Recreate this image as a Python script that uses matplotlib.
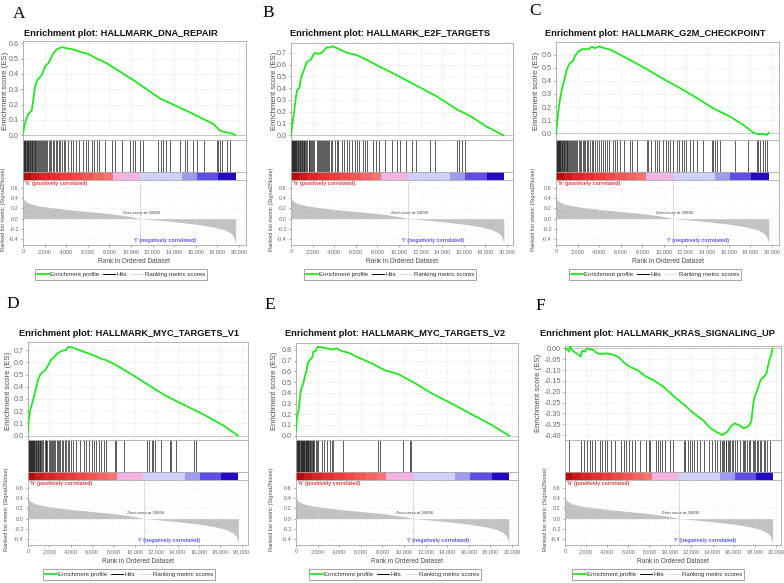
import matplotlib
matplotlib.use("Agg")
import numpy as np
import matplotlib.pyplot as plt
from matplotlib.lines import Line2D

# ------------------------------------------------------------------ data
letters = ["A", "B", "C", "D", "E", "F"]
titles = [
    "Enrichment plot: HALLMARK_DNA_REPAIR",
    "Enrichment plot: HALLMARK_E2F_TARGETS",
    "Enrichment plot: HALLMARK_G2M_CHECKPOINT",
    "Enrichment plot: HALLMARK_MYC_TARGETS_V1",
    "Enrichment plot: HALLMARK_MYC_TARGETS_V2",
    "Enrichment plot: HALLMARK_KRAS_SIGNALING_UP",
]

es_rank_A = [0, 185, 494, 800, 957, 1111, 1327, 1728, 2037, 2346, 2562, 2809, 3117, 3580, 4043,
             4660, 5278, 6049, 6821, 7747, 8981, 10216, 11451, 12685, 14537, 16389, 17623,
             18241, 18549, 19167, 19475, 19660]
es_A = [0.01, 0.08, 0.14, 0.16, 0.23, 0.32, 0.36, 0.39, 0.45, 0.47, 0.50, 0.535, 0.56, 0.575, 0.567,
        0.56, 0.545, 0.53, 0.50, 0.47, 0.415, 0.36, 0.30, 0.24, 0.18, 0.117, 0.074,
        0.03, 0.024, 0.013, 0.009, 0.0]

es_rank_B = [0, 93, 278, 463, 586, 772, 895, 1142, 1451, 1821, 2130, 2315, 2531, 2840, 3056, 3302,
             3673, 3858, 4228, 4691, 5154, 6080, 7006, 8241, 9784, 11636, 13488, 15340, 16574,
             18117, 19660]
es_B = [0.0, 0.07, 0.19, 0.33, 0.39, 0.40, 0.48, 0.54, 0.62, 0.64, 0.69, 0.70, 0.69, 0.70, 0.72, 0.745,
        0.745, 0.755, 0.74, 0.72, 0.70, 0.68, 0.64, 0.58, 0.51, 0.42, 0.33, 0.22, 0.164,
        0.073, 0.0]

es_rank_C = [0, 123, 309, 525, 741, 988, 1235, 1543, 1759, 2068, 2531, 2994, 3302, 3611, 4012, 4444,
             5000, 5926, 6852, 8395, 9938, 11481, 13025, 14568, 16111, 17346, 18272, 18735,
             19198, 19506, 19691]
es_C = [0.0, 0.10, 0.23, 0.33, 0.395, 0.485, 0.53, 0.55, 0.59, 0.625, 0.645, 0.64, 0.66, 0.65, 0.663,
        0.65, 0.64, 0.60, 0.56, 0.49, 0.415, 0.345, 0.27, 0.19, 0.128, 0.064, 0.005, -0.008,
        -0.005, -0.013, 0.005]

es_rank_D = [0, 62, 216, 463, 710, 926, 1142, 1389, 1636, 1852, 2160, 2469, 2778, 3241, 3549, 3796,
             4167, 4784, 5401, 6327, 6944, 7253, 8179, 9722, 11265, 12809, 14660, 16512, 18364,
             19660]
es_D = [0.02, 0.13, 0.21, 0.29, 0.37, 0.455, 0.50, 0.52, 0.535, 0.57, 0.62, 0.645, 0.675, 0.695, 0.70,
        0.728, 0.72, 0.70, 0.68, 0.65, 0.625, 0.62, 0.58, 0.50, 0.415, 0.33, 0.25, 0.17, 0.08,
        0.0]

es_rank_E = [0, 93, 216, 340, 463, 679, 833, 988, 1080, 1296, 1512, 1605, 1821, 1975, 2377, 2840,
             3302, 3765, 4228, 4846, 5772, 7006, 8241, 9475, 11019, 12562, 14414, 16265, 18117,
             19722]
es_E = [0.04, 0.18, 0.22, 0.33, 0.43, 0.49, 0.56, 0.61, 0.675, 0.71, 0.73, 0.785, 0.79, 0.83, 0.825,
        0.815, 0.805, 0.815, 0.79, 0.775, 0.73, 0.675, 0.61, 0.575, 0.49, 0.395, 0.30, 0.20,
        0.10, 0.0]

es_rank_F = [0, 206, 364, 459, 680, 997, 1313, 1471, 1630, 1851, 2106, 2420, 2736, 3054, 3530, 4004,
             4632, 5107, 5581, 6217, 6853, 7641, 8430, 9378, 10327, 11276, 12225, 13175, 13811,
             14447, 14921, 15396, 15709, 16089, 16497, 16972, 17446, 17674, 17769, 17921, 18244,
             18557, 18870, 19127, 19250, 19440, 19573, 19696]
es_F = [0.0, -0.005, -0.015, 0.008, -0.008, -0.02, -0.03, -0.038, -0.01, -0.015, 0.0, -0.005, -0.008,
        -0.023, -0.026, -0.023, -0.03, -0.041, -0.065, -0.087, -0.099, -0.129, -0.148, -0.178,
        -0.221, -0.259, -0.30, -0.335, -0.369, -0.388, -0.40, -0.385, -0.362, -0.346, -0.354,
        -0.369, -0.358, -0.338, -0.30, -0.238, -0.192, -0.146, -0.131, -0.115, -0.085, -0.046,
        -0.031, 0.0]

hits_A = [10, 60, 110, 170, 220, 280, 330, 390, 450, 500, 560, 620, 680, 740, 800, 870, 930, 1000,
          1070, 1140, 1220, 1300, 1380, 1460, 1550, 1640, 1740, 1830, 1930, 2040, 2150, 2260, 2380,
          2500, 2620, 2750, 2880, 3010, 3150, 3300, 3440, 3600, 3760, 3920, 4200, 4410, 4600, 4910,
          5150, 5590, 5830, 6050, 6360, 6570, 6820, 7070, 7590, 8210, 8520, 9140, 9910, 10150,
          10370, 10830, 11080, 12530, 12750, 12990, 13240, 13610, 14540, 15000, 15210, 15770,
          16140, 16760, 17930, 18090, 18240, 18390, 18860, 19160]
hits_B = [10, 50, 100, 150, 200, 250, 300, 350, 400, 450, 500, 560, 620, 680, 740, 800, 860, 920,
          980, 1040, 1100, 1170, 1240, 1310, 1380, 1450, 1620, 1700, 1780, 1870, 1960, 2050, 2150,
          2450, 2530, 2620, 2700, 2790, 2880, 2960, 3050, 3150, 3250, 3350, 3460, 3560, 3660, 3760,
          4070, 4230, 4380, 4690, 4910, 5220, 5400, 5620, 5930, 6140, 6330, 6640, 6850, 7010, 7620,
          7870, 8180, 8700, 9320, 9780, 10090, 10650, 11170, 11570, 12870, 13330, 15400, 15580,
          15800, 16110]
hits_C = [10, 60, 110, 160, 210, 260, 310, 360, 410, 460, 520, 580, 640, 700, 770, 840, 910, 980,
          1060, 1140, 1220, 1300, 1390, 1480, 1570, 1670, 1770, 1880, 1990, 2100, 2220, 2340, 2460,
          2590, 2720, 2860, 3000, 3150, 3300, 3460, 3620, 3790, 3960, 4140, 4320, 4510, 4700, 4900,
          5310, 5460, 5680, 5930, 6300, 6850, 7010, 7470, 8390, 8550, 8760, 9170, 9320, 9570, 9940,
          10180, 10400, 10550, 10860, 11170, 11420, 11630, 11850, 12040, 12410, 12710, 13020,
          13640, 14410, 14570, 14720, 14940, 15180, 16570, 17810, 18580, 18730, 18890, 19130,
          19350, 19570]
hits_D = [10, 50, 100, 150, 200, 250, 300, 350, 400, 450, 500, 550, 600, 660, 720, 780, 840, 900,
          960, 1020, 1090, 1160, 1230, 1300, 1380, 1550, 1640, 1730, 1820, 1920, 2020, 2120, 2230,
          2340, 2450, 2560, 2680, 2800, 2920, 3040, 3170, 3300, 3430, 3560, 3700, 3840, 3980, 4230,
          4540, 4850, 5250, 5460, 5710, 5960, 6170, 6390, 6640, 6880, 7100, 7310, 8120, 8240, 8950,
          11110, 11330, 11570, 11730, 11880, 12500, 13270, 13420, 13890, 15580, 15740]
hits_E = [20, 60, 110, 150, 200, 280, 320, 370, 420, 460, 520, 590, 640, 680, 730, 770, 830, 900,
          950, 990, 1040, 1080, 1150, 1200, 1250, 1300, 1390, 1450, 1540, 1600, 1700, 1810, 1910,
          2070, 2380, 2620, 2840, 3150, 3300, 3460, 4380, 7560, 7780, 9940, 10550, 10650]
hits_F = [360, 1530, 1790, 2100, 2360, 2580, 2890, 3300, 3530, 3750, 3940, 4320, 4700, 5330, 5580,
          5830, 6060, 6370, 6690, 7160, 7730, 7950, 8110, 8680, 8810, 9000, 9220, 9530, 10010,
          10260, 11270, 11430, 11650, 11840, 12060, 12290, 12540, 12850, 13170, 13650, 13960,
          14240, 14440, 14750, 14880, 15000, 15130, 15250, 15320, 15450, 15540, 15700, 15820,
          15950, 16170, 16320, 16650, 16900, 17000, 17120, 17280, 17440, 17600, 17850, 17960,
          18070, 18230, 18350, 18480, 18600, 18860, 19000, 19180, 19490]

metric_rank = [0, 100, 300, 700, 1500, 2500, 4000, 6000, 8000, 10000, 10836, 12000, 14000, 16000,
               17500, 18500, 19200, 19500, 19700]
metric_val = [0.42, 0.37, 0.33, 0.29, 0.25, 0.22, 0.18, 0.14, 0.10, 0.04, 0.0, -0.02, -0.06, -0.11,
              -0.16, -0.21, -0.28, -0.35, -0.48]
zero_cross = 10836

cbar_edges = [0, 700, 1500, 2500, 3500, 4500, 5500, 6500, 7500, 8300, 10800, 14700, 16100,
              18100, 19700]
cbar_colors = ["#b80c0c", "#cc1a1a", "#dc2626", "#e63030", "#ee3c3c", "#f24848", "#f45656",
               "#f66464", "#f87474", "#f2b4de", "#d0d0f8", "#9c9cf2", "#5e4ee6", "#2408c4"]

x_ticks = [0, 2000, 4000, 6000, 8000, 10000, 12000, 14000, 16000, 18000, 20000]
es_ticks_A = [0.0, 0.1, 0.2, 0.3, 0.4, 0.5, 0.6]
es_ticks_B = [0.0, 0.1, 0.2, 0.3, 0.4, 0.5, 0.6, 0.7]
es_ticks_C = [0.0, 0.1, 0.2, 0.3, 0.4, 0.5, 0.6]
es_ticks_D = [0.0, 0.1, 0.2, 0.3, 0.4, 0.5, 0.6, 0.7]
es_ticks_E = [0.0, 0.1, 0.2, 0.3, 0.4, 0.5, 0.6, 0.7, 0.8]
es_ticks_F = [0.0, -0.05, -0.10, -0.15, -0.20, -0.25, -0.30, -0.35, -0.40]
ranked_ticks = [0.6, 0.4, 0.2, 0.0, -0.2, -0.4]
legend_labels = ["Enrichment profile", "Hits", "Ranking metric scores"]
pos_label = "'h' (positively correlated)"
neg_label = "'l' (negatively correlated)"
zero_label = "Zero cross at 10836"

# ------------------------------------------------------------------ layout
W, H = 784, 583
fig = plt.figure(figsize=(W / 100, H / 100), dpi=100)
fig.patch.set_facecolor("white")
SANS = ["Liberation Sans", "DejaVu Sans"]
SERIF = ["Liberation Serif", "DejaVu Serif"]
GREEN = "#22e622"
SPINE = "#a8a8a8"
GRID = "#d4d4d4"
TICK = "#6a6a6a"
LAB = "#4a4a4a"


def add_ax(l, t, w, h):
    return fig.add_axes([l / W, 1 - (t + h) / H, w / W, h / H])


panels = [
    dict(rank=es_rank_A, es=es_A, hits=hits_A, ticks=es_ticks_A, fmt="%.1f", ylim=(-0.031, 0.615),
         left=23, width=223, top=41, row=0, tcx=121, letter=(19, 14), ylx=6, rlx=4, xmax=20650),
    dict(rank=es_rank_B, es=es_B, hits=hits_B, ticks=es_ticks_B, fmt="%.1f", ylim=(-0.04, 0.785),
         left=291, width=222, top=42.7, row=0, tcx=390, letter=(268, 13), ylx=274, rlx=272, xmax=20550),
    dict(rank=es_rank_C, es=es_C, hits=hits_C, ticks=es_ticks_C, fmt="%.1f", ylim=(-0.051, 0.699),
         left=556, width=223, top=41.7, row=0, tcx=655, letter=(535, 11), ylx=537, rlx=534, xmax=20650),
    dict(rank=es_rank_D, es=es_D, hits=hits_D, ticks=es_ticks_D, fmt="%.1f", ylim=(-0.035, 0.768),
         left=28, width=220, top=341.7, row=1, tcx=129, letter=(13, 304), ylx=9, rlx=7, xmax=20600),
    dict(rank=es_rank_E, es=es_E, hits=hits_E, ticks=es_ticks_E, fmt="%.1f", ylim=(-0.04, 0.868),
         left=296, width=222, top=342.7, row=1, tcx=395, letter=(270, 305), ylx=274, rlx=272, xmax=20550),
    dict(rank=es_rank_F, es=es_F, hits=hits_F, ticks=es_ticks_F, fmt="%.2f", ylim=(-0.423, 0.011),
         left=565, width=216, top=346, row=1, tcx=658, letter=(540, 306), ylx=539, rlx=545, xmax=20500),
]


def style_box(ax):
    for s in ax.spines.values():
        s.set_color(SPINE)
        s.set_linewidth(0.6)


for i, p in enumerate(panels):
    dy = 0 if p["row"] == 0 else 300
    l, w = p["left"], p["width"]
    xmax = p["xmax"]

    # --- enrichment score
    ax = add_ax(l, p["top"], w, 140 + dy - p["top"])
    ax.plot(p["rank"], p["es"], color=GREEN, lw=1.3, solid_joinstyle="round", zorder=3)
    ax.axhline(0, color="#b8b8b8", lw=0.6, zorder=1)
    ax.set_xlim(0, xmax)
    ax.set_ylim(*p["ylim"])
    ax.set_xticks(x_ticks)
    ax.set_yticks(p["ticks"])
    ax.set_yticklabels([p["fmt"] % v for v in p["ticks"]], fontsize=5.2, color=TICK, family=SANS)
    ax.tick_params(axis="x", length=0, labelbottom=False)
    ax.tick_params(axis="y", length=1.5, pad=1.5, color=SPINE)
    ax.grid(True, ls=":", lw=0.5, color=GRID)
    style_box(ax)

    # --- hits
    axh = add_ax(l, 140 + dy, w, 32)
    axh.vlines(p["hits"], 0, 1, color="#1a1a1a", lw=0.5)
    axh.set_xlim(0, xmax)
    axh.set_ylim(0, 1)
    axh.set_xticks([])
    axh.set_yticks([])
    style_box(axh)

    # --- colour bar
    axc = add_ax(l, 172 + dy, w, 8)
    axc.bar(cbar_edges[:-1], 1, width=np.diff(cbar_edges), align="edge", color=cbar_colors, lw=0)
    axc.set_xlim(0, xmax)
    axc.set_ylim(0, 1)
    axc.set_xticks([])
    axc.set_yticks([])
    style_box(axc)

    # --- ranked list metric
    axr = add_ax(l, 180 + dy, w, 65)
    axr.fill_between(metric_rank, metric_val, 0, color="#c2c2c2", lw=0)
    axr.axvline(zero_cross, ls=(0, (1.5, 1.5)), color="#9a9a9a", lw=0.5)
    axr.set_xlim(0, xmax)
    axr.set_ylim(-0.52, 0.76)
    axr.set_xticks(x_ticks)
    axr.set_xticklabels([f"{v:,}" for v in x_ticks], fontsize=4.0, color=TICK, family=SANS)
    axr.set_yticks(ranked_ticks)
    axr.set_yticklabels(["%.1f" % v for v in ranked_ticks], fontsize=4.0, color=TICK, family=SANS)
    axr.tick_params(length=1.5, pad=1.5, color=SPINE)
    axr.grid(True, ls=":", lw=0.4, color="#e2e2e2")
    style_box(axr)
    axr.set_xlabel("Rank in Ordered Dataset", fontsize=4.7, color=LAB, family=SANS, labelpad=2.5)
    axr.text(150, 0.70, pos_label, fontsize=3.8, color="#e03a3a", weight="bold", family=SANS,
             ha="left", va="center")
    axr.text(10300, -0.44, neg_label, fontsize=3.8, color="#5a5ae6", weight="bold", family=SANS,
             ha="left", va="center")
    axr.text(11000, 0.12, zero_label, fontsize=3.1, color="#404040", family=SANS,
             ha="center", va="center")

    # --- legend
    handles = [Line2D([], [], color=GREEN, lw=1.3), Line2D([], [], color="black", lw=0.7),
               Line2D([], [], color="#dcdcdc", lw=0.7)]
    leg = axr.legend(handles, legend_labels, loc="center",
                     bbox_to_anchor=(p["tcx"] / W, 1 - (274.5 + dy) / H),
                     bbox_transform=fig.transFigure, ncol=3, frameon=True,
                     fancybox=False, handlelength=1.9, handletextpad=0.3, columnspacing=0.6,
                     borderpad=0.4, prop={"family": SANS, "size": 4.4})
    leg.get_frame().set_edgecolor("#7a7a7a")
    leg.get_frame().set_linewidth(0.6)
    for t in leg.get_texts():
        t.set_color("#303030")

    # --- texts
    fig.text(p["tcx"] / W, 1 - (33 + dy) / H, titles[i], fontsize=6.7, weight="bold",
             family=SANS, ha="center", va="center", color="#111111")
    fig.text(p["letter"][0] / W, 1 - p["letter"][1] / H, letters[i], fontsize=12.5,
             family=SERIF, ha="center", va="center", color="black")
    es_mid = (p["top"] + 140 + dy) / 2
    fig.text(p["ylx"] / W, 1 - es_mid / H, "Enrichment score (ES)", rotation=90, fontsize=5.6,
             family=SANS, color=LAB, ha="center", va="center")
    fig.text(p["rlx"] / W, 1 - (209 + dy) / H, "Ranked list metric (Signal2Noise)", rotation=90,
             fontsize=4.1, family=SANS, color=LAB, ha="center", va="center")

fig.savefig("out.png", dpi=100, facecolor="white")
